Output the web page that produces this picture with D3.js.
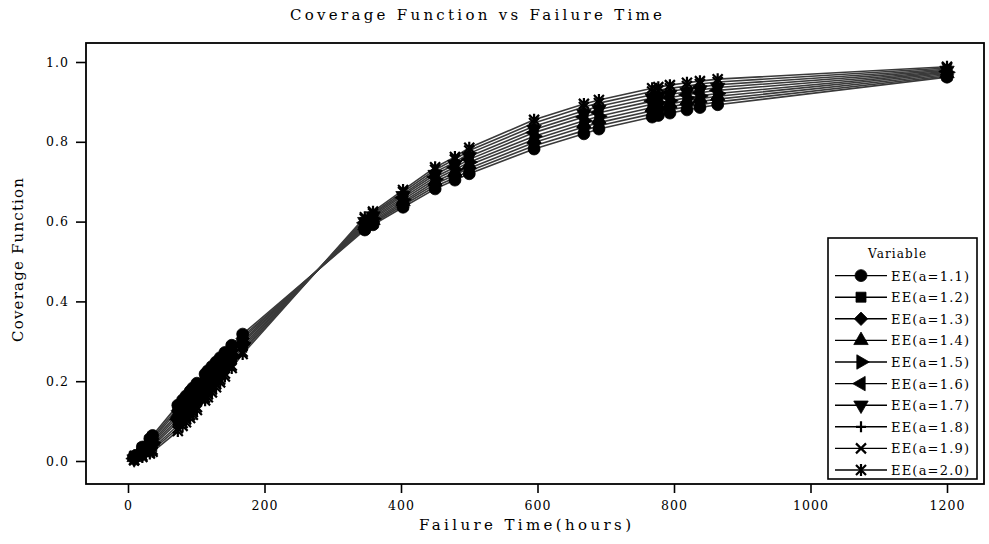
<!DOCTYPE html>
<html>
<head>
<meta charset="utf-8">
<script src="https://cdn.jsdelivr.net/npm/d3@7/dist/d3.min.js"></script>
<style>
  body { margin: 0; background: #fff; }
</style>
</head>
<body>
<svg id="chart" width="989" height="544"></svg>
<script>
// failure times (hours)
const failureTime = [9, 21, 32, 36, 73, 80, 85, 91, 95, 101, 113, 117, 123, 129, 135, 142, 152, 168,
  347, 359, 403, 450, 479, 500, 595, 668, 690, 768, 777, 794, 819, 838, 864, 1200];

// coverage function, one array per shape parameter
const ee11 = [.012,.035,.056,.064,.140,.153,.163,.175,.183,.195,.218,.226,.237,.248,.259,.272,.290,.318,.579,.592,.636,.682,.704,.720,.782,.820,.832,.862,.866,.872,.880,.886,.893,.962];
const ee12 = [.011,.032,.052,.059,.133,.146,.156,.168,.176,.188,.211,.219,.230,.241,.252,.265,.284,.312,.583,.596,.641,.688,.710,.727,.790,.828,.840,.870,.874,.880,.888,.893,.900,.965];
const ee13 = [.010,.029,.048,.055,.126,.139,.148,.160,.168,.180,.203,.211,.223,.234,.245,.259,.277,.307,.586,.599,.646,.694,.717,.734,.798,.837,.848,.878,.882,.888,.895,.901,.907,.968];
const ee14 = [.009,.027,.044,.050,.118,.131,.141,.153,.161,.173,.196,.204,.215,.227,.238,.252,.271,.301,.590,.603,.650,.700,.723,.742,.806,.845,.856,.886,.890,.895,.903,.908,.914,.971];
const ee15 = [.008,.024,.040,.046,.111,.124,.134,.145,.153,.165,.189,.197,.208,.220,.231,.245,.265,.296,.593,.607,.655,.706,.730,.749,.814,.853,.864,.894,.898,.903,.910,.915,.921,.974];
const ee16 = [.006,.021,.035,.041,.104,.117,.126,.138,.146,.158,.181,.189,.201,.213,.225,.239,.258,.290,.597,.610,.660,.712,.736,.756,.823,.862,.873,.902,.905,.911,.918,.923,.929,.976];
const ee17 = [.005,.018,.031,.037,.097,.110,.119,.130,.138,.150,.174,.182,.194,.206,.218,.232,.252,.285,.600,.614,.665,.718,.743,.763,.831,.870,.881,.910,.913,.919,.925,.930,.936,.979];
const ee18 = [.004,.015,.027,.032,.089,.102,.112,.123,.131,.143,.167,.175,.186,.199,.211,.225,.246,.279,.604,.618,.669,.724,.749,.771,.839,.878,.889,.918,.921,.926,.933,.937,.943,.982];
const ee19 = [.003,.013,.023,.028,.082,.095,.104,.115,.123,.135,.159,.167,.179,.192,.204,.219,.239,.274,.607,.621,.674,.730,.756,.778,.847,.887,.897,.926,.929,.934,.940,.945,.950,.985];
const ee20 = [.002,.010,.019,.023,.075,.088,.097,.108,.116,.128,.152,.160,.172,.185,.197,.212,.233,.268,.611,.625,.679,.736,.762,.785,.855,.895,.905,.934,.937,.942,.948,.952,.957,.988];

const seriesNames = ["EE(a=1.1)", "EE(a=1.2)", "EE(a=1.3)", "EE(a=1.4)", "EE(a=1.5)",
  "EE(a=1.6)", "EE(a=1.7)", "EE(a=1.8)", "EE(a=1.9)", "EE(a=2.0)"];
const seriesValues = [ee11, ee12, ee13, ee14, ee15, ee16, ee17, ee18, ee19, ee20];
const xTicks = [0, 200, 400, 600, 800, 1000, 1200];
const yTicks = [0, 0.2, 0.4, 0.6, 0.8, 1.0];

const serif = "DejaVu Serif";
const frame = {left: 86, right: 984, top: 43, bottom: 484};

const svg = d3.select("#chart");

const x = d3.scaleLinear().domain([0, 1200]).range([128, 947]);
const y = d3.scaleLinear().domain([0, 1]).range([461, 62]);

// marker shapes (filled ones use d3 symbols, the last three are stroked)
function markerPath(i) {
    const tri = d3.symbol(d3.symbolTriangle, 90)();
    switch (i) {
        case 0: return {d: d3.symbol(d3.symbolCircle, 112)(), fill: true};
        case 1: return {d: d3.symbol(d3.symbolSquare, 100)(), fill: true};
        case 2: return {d: d3.symbol(d3.symbolDiamond2, 115)(), fill: true};
        case 3: return {d: tri, fill: true};
        case 4: return {d: tri, fill: true, rot: 90};
        case 5: return {d: tri, fill: true, rot: -90};
        case 6: return {d: tri, fill: true, rot: 180};
        case 7: return {d: "M-5,0H5M0,-5.5V5.5", fill: false};
        case 8: return {d: "M-5,-5L5,5M-5,5L5,-5", fill: false};
        default: return {d: "M-5,-5L5,5M-5,5L5,-5M0,-6V6", fill: false};
    }
}

function drawMarker(g, i, cx, cy) {
    const m = markerPath(i);
    g.append("path")
        .attr("d", m.d)
        .attr("transform", "translate(" + cx + "," + cy + ")" + (m.rot ? " rotate(" + m.rot + ")" : ""))
        .attr("fill", m.fill ? "#000" : "none")
        .attr("stroke", "#000")
        .attr("stroke-width", m.fill ? 0.8 : 2.2);
}

// frame
svg.append("rect")
    .attr("x", frame.left).attr("y", frame.top)
    .attr("width", frame.right - frame.left).attr("height", frame.bottom - frame.top)
    .attr("fill", "none").attr("stroke", "#000").attr("stroke-width", 1.8);

// axes
const yAxis = svg.append("g")
    .attr("transform", "translate(" + frame.left + ",0)")
    .call(d3.axisLeft(y).tickValues(yTicks).tickSize(10).tickPadding(7).tickFormat(d3.format(".1f")));
const xAxis = svg.append("g")
    .attr("transform", "translate(0," + frame.bottom + ")")
    .call(d3.axisBottom(x).tickValues(xTicks).tickSize(9).tickPadding(8).tickFormat(d3.format("d")));

[yAxis, xAxis].forEach(function (ax) {
    ax.attr("font-family", serif).attr("font-size", 12.5);
    ax.select(".domain").remove();
    ax.selectAll("line").attr("stroke", "#000").attr("stroke-width", 1.6);
    ax.selectAll("text").style("letter-spacing", "1px");
});

// lines then markers
const line = d3.line()
    .x(function (d) { return x(d[0]); })
    .y(function (d) { return y(d[1]); });

const plot = svg.append("g");
seriesValues.forEach(function (vals) {
    plot.append("path")
        .datum(failureTime.map(function (t, j) { return [t, vals[j]]; }))
        .attr("d", line)
        .attr("fill", "none")
        .attr("stroke", "#3a3a3a")
        .attr("stroke-width", 1.6);
});
seriesValues.forEach(function (vals, i) {
    const g = plot.append("g");
    failureTime.forEach(function (t, j) {
        drawMarker(g, i, x(t), y(vals[j]));
    });
});

// titles
svg.append("text")
    .attr("x", 476).attr("y", 20)
    .attr("text-anchor", "middle")
    .attr("font-family", serif).attr("font-size", 15)
    .attr("textLength", 372).attr("lengthAdjust", "spacing")
    .text("Coverage Function vs Failure Time");

svg.append("text")
    .attr("x", 525).attr("y", 530)
    .attr("text-anchor", "middle")
    .attr("font-family", serif).attr("font-size", 15)
    .attr("textLength", 212).attr("lengthAdjust", "spacing")
    .text("Failure Time(hours)");

svg.append("text")
    .attr("transform", "translate(23,260) rotate(-90)")
    .attr("text-anchor", "middle")
    .attr("font-family", serif).attr("font-size", 15)
    .attr("textLength", 164).attr("lengthAdjust", "spacing")
    .text("Coverage Function");

// legend
const legend = svg.append("g");
legend.append("rect")
    .attr("x", 828).attr("y", 238)
    .attr("width", 149).attr("height", 241)
    .attr("fill", "#fff").attr("stroke", "#000").attr("stroke-width", 1.6);
legend.append("text")
    .attr("x", 897).attr("y", 258)
    .attr("text-anchor", "middle")
    .attr("font-family", serif).attr("font-size", 12)
    .attr("textLength", 58).attr("lengthAdjust", "spacing")
    .text("Variable");

seriesNames.forEach(function (name, i) {
    const ry = 275.6 + i * 21.6;
    legend.append("line")
        .attr("x1", 835).attr("x2", 887)
        .attr("y1", ry).attr("y2", ry)
        .attr("stroke", "#000").attr("stroke-width", 1.4);
    drawMarker(legend, i, 861, ry);
    legend.append("text")
        .attr("x", 891).attr("y", ry + 5)
        .attr("font-family", serif).attr("font-size", 13)
        .attr("textLength", 78).attr("lengthAdjust", "spacing")
        .text(name);
});
</script>
</body>
</html>
